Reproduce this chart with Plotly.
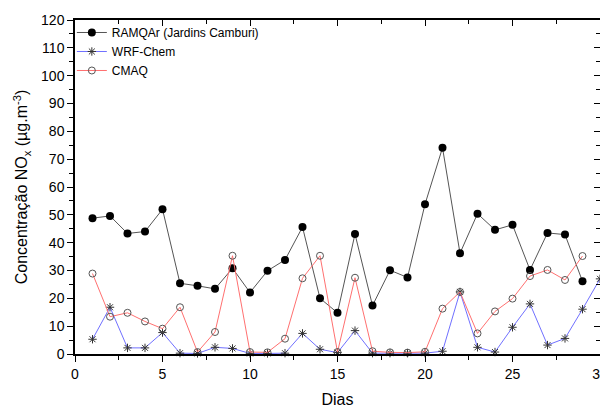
import plotly.graph_objects as go

dias = list(range(1, 30))
dias_wrf = list(range(1, 31))
ramqar = [48.8, 49.6, 43.3, 44.0, 52.0, 25.4, 24.5, 23.4, 30.8, 22.1,
          29.9, 33.8, 45.6, 20.0, 14.8, 43.1, 17.4, 30.1, 27.5, 53.8,
          74.1, 36.2, 50.4, 44.6, 46.4, 30.2, 43.5, 42.9, 26.1]
wrf = [5.3, 16.8, 2.2, 2.2, 7.7, 0.3, 0.2, 2.4, 2.0, 0.2,
       0.2, 0.3, 7.4, 1.7, 0.5, 8.4, 0.3, 0.3, 0.3, 0.3,
       1.0, 22.3, 2.4, 0.7, 9.6, 18.0, 3.2, 5.6, 16.1, 27.0]
cmaq = [28.9, 13.4, 14.8, 11.7, 9.1, 16.8, 0.7, 7.9, 35.3, 0.7,
        0.6, 5.5, 27.2, 35.3, 0.7, 27.4, 1.0, 0.6, 0.5, 0.8,
        16.3, 22.3, 7.4, 15.3, 19.9, 28.0, 30.2, 26.6, 35.2]

x_ticks = [0, 5, 10, 15, 20, 25, 30]
y_ticks = list(range(0, 121, 10))

FONT = "Liberation Sans, Arial, sans-serif"

fig = go.Figure()
fig.add_trace(go.Scatter(
    x=dias, y=ramqar, name="RAMQAr (Jardins Camburi)", mode="lines+markers",
    line=dict(color="#555555", width=1),
    marker=dict(symbol="circle", size=8, color="black"),
    cliponaxis=False))
fig.add_trace(go.Scatter(
    x=dias_wrf, y=wrf, name="WRF-Chem", mode="lines+markers",
    line=dict(color="#7070ff", width=1),
    marker=dict(symbol="asterisk-open", size=7, color="#333333",
                line=dict(color="#333333", width=1)),
    cliponaxis=False))
fig.add_trace(go.Scatter(
    x=dias, y=cmaq, name="CMAQ", mode="lines+markers",
    line=dict(color="#ff7070", width=1),
    marker=dict(symbol="circle-open", size=7, color="#555555",
                line=dict(color="#555555", width=1)),
    cliponaxis=False))

# dummy trace for the mirrored axes (inside ticks)
fig.add_trace(go.Scatter(x=[None], y=[None], xaxis="x2", yaxis="y2",
                         showlegend=False, hoverinfo="skip"))

axis_common = dict(showgrid=False, zeroline=False, showline=True,
                   linecolor="black", linewidth=1.5, automargin=False,
                   tickfont=dict(family=FONT, size=14, color="black"))

fig.update_layout(
    width=600, height=400,
    margin=dict(l=67, r=8, t=12, b=54, autoexpand=False),
    paper_bgcolor="white", plot_bgcolor="white",
    font=dict(family=FONT, color="black"),
    showlegend=True,
    legend=dict(x=-0.006, y=1.006, xanchor="left", yanchor="top",
                bgcolor="rgba(0,0,0,0)", font=dict(family=FONT, size=12),
                tracegroupgap=0, itemwidth=30),
    xaxis=dict(range=[0, 30], tickvals=x_ticks, ticks="outside", ticklen=6,
               tickwidth=1.2, tickcolor="black",
               minor=dict(dtick=2.5, ticks="outside", ticklen=4, tickwidth=1.2, tickcolor="black"),
               title=dict(text="Dias", font=dict(family=FONT, size=16), standoff=15),
               **axis_common),
    yaxis=dict(range=[0, 120], tickvals=y_ticks, ticks="outside", ticklen=6,
               tickwidth=1.2, tickcolor="black",
               minor=dict(dtick=5, ticks="outside", ticklen=4, tickwidth=1.2, tickcolor="black"),
               title=dict(text="Concentração NO<sub>x</sub> (µg.m<sup>-3</sup>)",
                          font=dict(family=FONT, size=16), standoff=9),
               **axis_common),
    xaxis2=dict(range=[0, 30], overlaying="x", side="top", tickvals=x_ticks,
                ticks="inside", ticklen=6, tickwidth=1.2, tickcolor="black",
                minor=dict(dtick=2.5, ticks="inside", ticklen=4, tickwidth=1.2, tickcolor="black"),
                showticklabels=False, showgrid=False, zeroline=False, automargin=False,
                showline=True, linecolor="black", linewidth=1.5),
    yaxis2=dict(range=[0, 120], overlaying="y", side="right", tickvals=y_ticks,
                ticks="inside", ticklen=6, tickwidth=1.2, tickcolor="black",
                minor=dict(dtick=5, ticks="inside", ticklen=4, tickwidth=1.2, tickcolor="black"),
                showticklabels=False, showgrid=False, zeroline=False, automargin=False,
                showline=True, linecolor="black", linewidth=1.5),
)

fig.write_html("out.html")
